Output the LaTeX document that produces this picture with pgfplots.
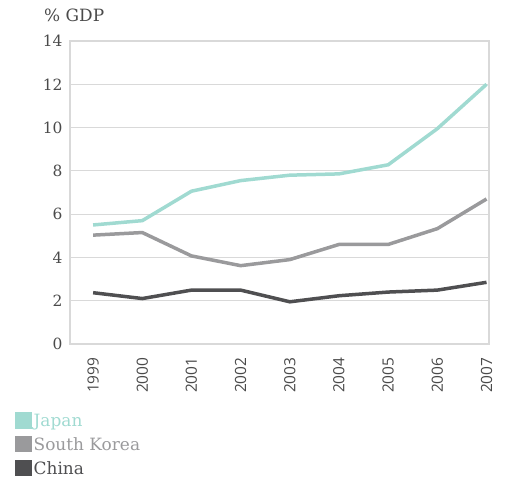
\documentclass[border=0pt]{standalone}
\usepackage{pgfplots}
\pgfplotsset{compat=1.18}
\usepackage{fontspec}
\setmainfont{DejaVu Serif}
\newfontfamily\ticksans{Open Sans}
\definecolor{cjapan}{HTML}{A0DAD1}
\definecolor{ckorea}{HTML}{9A9A9C}
\definecolor{cchina}{HTML}{4F4F51}
\definecolor{ctext}{HTML}{4A4A4A}
\definecolor{cgrid}{HTML}{D9D9D9}
\begin{document}
\begin{tikzpicture}
\begin{axis}[
  at={(0,0)}, anchor=south west,
  scale only axis, width=419bp, height=303bp,
  xmin=1998.53, xmax=2007.05, ymin=0, ymax=14,
  xtick={1999,...,2007},
  xticklabel style={rotate=90, anchor=east, font=\ticksans\fontsize{15.5}{15.5}\selectfont, text=ctext},
  xticklabel={\pgfmathprintnumber[1000 sep={}]{\tick}},
  ytick={0,2,...,14},
  yticklabel style={font=\fontsize{15.5}{15.5}\selectfont, text=ctext},
  /pgf/number format/assume math mode=true,
  major tick length=0pt,
  ymajorgrids, grid style={cgrid, line width=1.2pt},
  axis line style={cgrid, line width=1.2pt},
  xticklabel shift=10bp, yticklabel shift=4bp,
  clip=false,
  legend cell align=left,
  legend style={at={(axis description cs:0,0)}, anchor=north west, xshift=-55bp, yshift=-68bp, draw=none, fill=none,
    font=\fontsize{17}{17}\selectfont, row sep=5.5bp, inner sep=0pt,
    /tikz/every even column/.style={column sep=0bp}},
  legend image code/.code={\fill[#1] (0bp,-6bp) rectangle (13bp,7bp);},
  every axis plot/.append style={line width=3.5bp},
]
\addplot[cjapan] coordinates {(1999,5.5) (2000,5.7) (2001,7.06) (2002,7.55) (2003,7.8) (2004,7.86) (2005,8.28) (2006,9.95) (2007,12.0)};
\addlegendentry{\textcolor{cjapan}{Japan}}
\addplot[ckorea] coordinates {(1999,5.03) (2000,5.15) (2001,4.07) (2002,3.62) (2003,3.9) (2004,4.6) (2005,4.6) (2006,5.33) (2007,6.7)};
\addlegendentry{\textcolor{ckorea}{South Korea}}
\addplot[cchina] coordinates {(1999,2.37) (2000,2.1) (2001,2.49) (2002,2.49) (2003,1.95) (2004,2.23) (2005,2.4) (2006,2.49) (2007,2.85)};
\addlegendentry{\textcolor{cchina}{China}}
\node[anchor=west, text=ctext, font=\fontsize{17}{17}\selectfont, inner sep=0pt] at (axis description cs:0,1) [xshift=-26bp, yshift=26bp] {\% GDP};
\end{axis}
\pgfresetboundingbox
\path (-70bp,-137bp) rectangle (442bp,344bp);
\end{tikzpicture}
\end{document}
